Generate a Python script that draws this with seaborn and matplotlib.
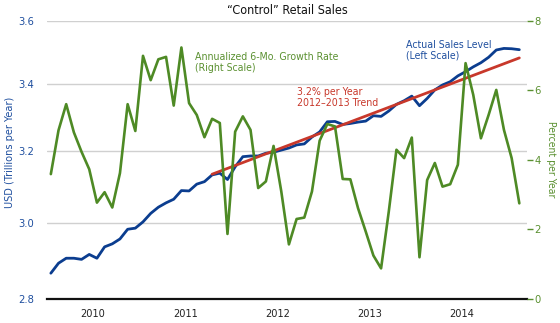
import numpy as np
import pandas as pd
import matplotlib
matplotlib.use("Agg")
import matplotlib.pyplot as plt
import matplotlib.ticker as mticker
import seaborn as sns

# ---- data ----
months = pd.date_range("2010-01-01", periods=62, freq="MS")
years = ["2010", "2011", "2012", "2013", "2014"]

sales_level = [2.866, 2.892, 2.905, 2.905, 2.902, 2.915, 2.905, 2.935, 2.943, 2.956,
               2.982, 2.985, 3.002, 3.025, 3.042, 3.054, 3.064, 3.088, 3.087, 3.106,
               3.113, 3.132, 3.137, 3.119, 3.155, 3.184, 3.186, 3.186, 3.194, 3.197,
               3.203, 3.209, 3.218, 3.221, 3.241, 3.256, 3.286, 3.287, 3.278, 3.281,
               3.285, 3.288, 3.304, 3.302, 3.318, 3.338, 3.349, 3.363, 3.334, 3.356,
               3.382, 3.397, 3.407, 3.425, 3.438, 3.453, 3.466, 3.483, 3.506, 3.511,
               3.510, 3.507]

growth_rate = [3.59, 4.85, 5.60, 4.79, 4.23, 3.73, 2.77, 3.07, 2.63, 3.62,
               5.60, 4.83, 6.99, 6.29, 6.89, 6.96, 5.56, 7.23, 5.63, 5.29,
               4.65, 5.18, 5.06, 1.87, 4.81, 5.25, 4.86, 3.19, 3.38, 4.40,
               3.10, 1.57, 2.30, 2.34, 3.09, 4.55, 5.03, 4.96, 3.45, 3.44,
               2.61, 1.94, 1.25, 0.88, 2.51, 4.29, 4.05, 4.64, 1.20, 3.42,
               3.91, 3.23, 3.30, 3.86, 6.78, 5.87, 4.62, 5.29, 6.01, 4.86,
               4.05, 2.75]

trend_months = ["2011-10-01", "2015-02-01"]
trend_values = [3.134, 3.481]

left_ticks = [2.8, 3.0, 3.2, 3.4, 3.6]
right_ticks = [0, 2, 4, 6, 8]

# ---- style ----
sns.set_theme(style="white")
plt.rcParams["font.family"] = ["DejaVu Sans"]
plt.rcParams["font.stretch"] = "condensed"

BLUE = "#0b3d8f"
BLUE_TXT = "#1f4f9f"
GREEN = "#4e8a25"
GREEN_TXT = "#5a9030"
RED = "#c8382b"

fig = plt.figure(figsize=(5.6, 3.23), dpi=100)
ax = fig.add_axes([47 / 560, 1 - 299 / 323, 480 / 560, 278.3 / 323])

xpos = np.arange(len(months))
month_index = {m: i for i, m in enumerate(months)}
trend_x = [month_index[pd.Timestamp(m)] for m in trend_months]

df_sales = pd.DataFrame({"x": xpos, "v": sales_level})
df_growth = pd.DataFrame({"x": xpos, "v": growth_rate})
df_trend = pd.DataFrame({"x": trend_x, "v": trend_values})

ax.set_yscale("log")
for y in left_ticks[1:]:
    ax.axhline(y, color="#d0d0d0", lw=1.0, zorder=0)

sns.lineplot(data=df_sales, x="x", y="v", ax=ax, color=BLUE, lw=2.0, zorder=3)
sns.lineplot(data=df_trend, x="x", y="v", ax=ax, color=RED, lw=2.0, zorder=4)

ax.set_ylim(left_ticks[0], left_ticks[-1])
ax.yaxis.set_major_locator(mticker.FixedLocator(left_ticks))
ax.yaxis.set_major_formatter(mticker.FixedFormatter([f"{t:.1f}" for t in left_ticks]))
ax.yaxis.set_minor_locator(mticker.NullLocator())
ax.tick_params(axis="y", which="both", length=0, pad=9, labelsize=8, labelcolor=BLUE_TXT)

ax.set_xlim(-0.5, 62)
year_edges = [-0.5 + 12 * k for k in range(len(years) + 1)]
year_centers = [5.5 + 12 * k for k in range(len(years))]
ax.xaxis.set_major_locator(mticker.FixedLocator(year_edges))
ax.xaxis.set_major_formatter(mticker.NullFormatter())
ax.xaxis.set_minor_locator(mticker.FixedLocator(year_centers))
ax.xaxis.set_minor_formatter(mticker.FixedFormatter(years))
ax.tick_params(axis="x", which="major", direction="out", length=4, width=1.3, color="#111111")
ax.tick_params(axis="x", which="minor", length=0, pad=7, labelsize=7.8, labelcolor="#222222")
ax.set_xlabel("")
ax.set_ylabel("")

for s in ["top", "left", "right"]:
    ax.spines[s].set_visible(False)
ax.spines["bottom"].set_color("#111111")
ax.spines["bottom"].set_linewidth(1.6)

ax2 = ax.twinx()
sns.lineplot(data=df_growth, x="x", y="v", ax=ax2, color=GREEN, lw=1.9, zorder=5)
ax2.set_ylim(0, 8)
ax2.yaxis.set_major_locator(mticker.FixedLocator(right_ticks))
ax2.yaxis.set_major_formatter(mticker.FixedFormatter([str(t) for t in right_ticks]))
ax2.tick_params(axis="y", direction="out", length=4, width=1.0, color=GREEN_TXT,
                pad=1.5, labelsize=8, labelcolor=GREEN_TXT)
ax2.set_ylabel("")
ax2.set_xlabel("")
for s in ["top", "left", "right", "bottom"]:
    ax2.spines[s].set_visible(False)
ax2.grid(False)

# ---- texts ----
def px(x, y):
    return x / 560, 1 - y / 323

fig.text(*px(287, 11), "\u201cControl\u201d Retail Sales", ha="center", va="center",
         fontsize=9, color="#111111")
fig.text(*px(10, 152), "USD (Trillions per Year)", ha="center", va="center",
         rotation=90, fontsize=7.8, color=BLUE_TXT)
fig.text(*px(551, 159), "Percent per Year", ha="center", va="center",
         rotation=270, fontsize=7.5, color=GREEN_TXT)
fig.text(*px(195, 52), "Annualized 6-Mo. Growth Rate\n(Right Scale)", ha="left", va="top",
         fontsize=7.6, color=GREEN_TXT, linespacing=1.1)
fig.text(*px(406, 40), "Actual Sales Level\n(Left Scale)", ha="left", va="top",
         fontsize=7.6, color=BLUE_TXT, linespacing=1.1)
fig.text(*px(297, 87), "3.2% per Year\n2012\u20132013 Trend", ha="left", va="top",
         fontsize=7.6, color=RED, linespacing=1.1)

fig.savefig("out.png", dpi=100)
